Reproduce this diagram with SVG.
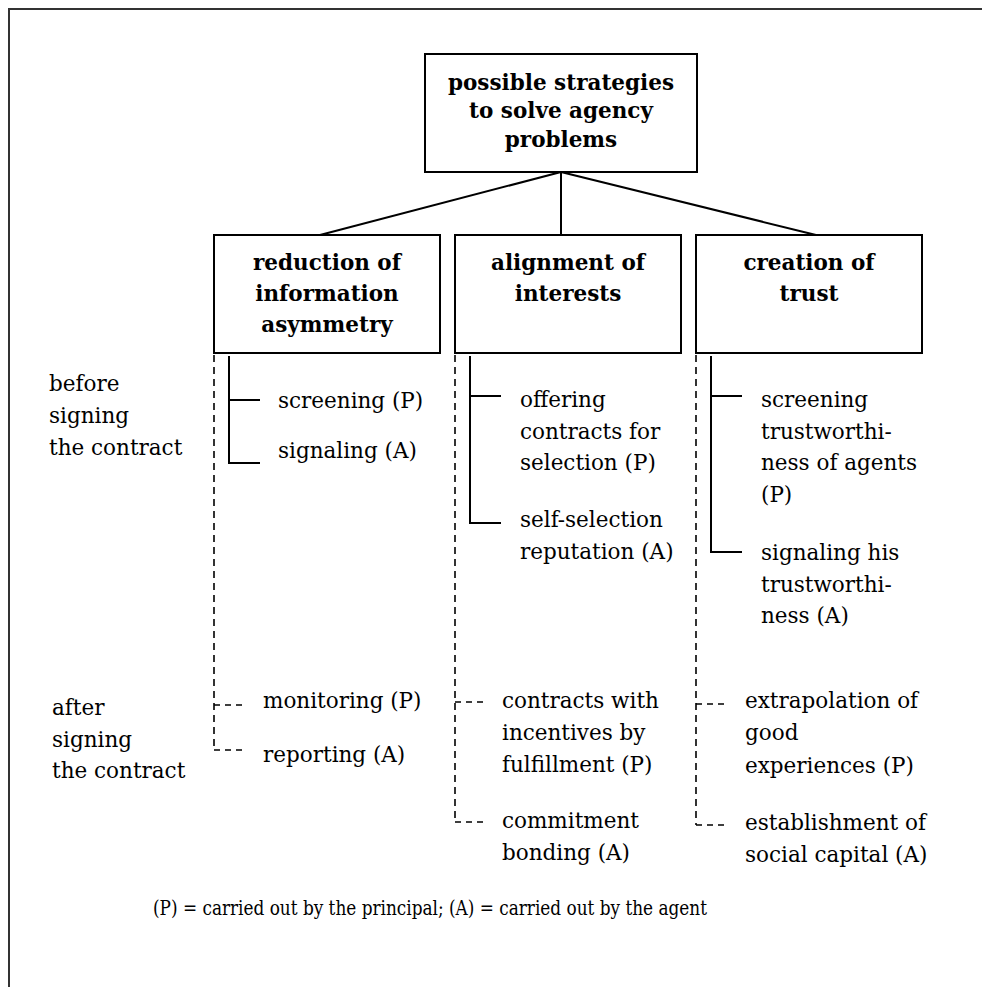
<svg xmlns="http://www.w3.org/2000/svg" width="982" height="987" viewBox="0 0 982 987">
  <style>
    .frame { fill: none; stroke: #333; stroke-width: 2; }
    .box { fill: #fff; stroke: #000; stroke-width: 2; }
    .link { fill: none; stroke: #000; stroke-width: 2; }
    .solid { fill: none; stroke: #000; stroke-width: 2; }
    .dash { fill: none; stroke: #000; stroke-width: 1.6; stroke-dasharray: 7 5; }
    .tick { fill: none; stroke: #000; stroke-width: 1.6; stroke-dasharray: 6 5; }
    .title { font-family: "DejaVu Serif", "Liberation Serif", serif; font-weight: bold; font-size: 21.5px; text-anchor: middle; fill: #000; }
    .lbl { font-family: "DejaVu Serif", "Liberation Serif", serif; font-size: 21.5px; fill: #000; }
    .note { font-family: "DejaVu Serif", "Liberation Serif", serif; font-size: 21px; fill: #000; }
  </style>

  <rect width="982" height="987" fill="#fff"/>
  <!-- outer frame (top and left edges) -->
  <path class="frame" d="M9,987 V9 H982"/>

  <!-- connectors -->
  <g id="connectors">
    <path class="link" d="M561,172 L320,235"/>
    <path class="link" d="M561,172 V235"/>
    <path class="link" d="M561,172 L816,235"/>
    <!-- before signing: solid brackets -->
    <path class="solid" d="M229,356 V463 H260 M229,400 H260"/>
    <path class="solid" d="M470,356 V523 H501 M470,396 H501"/>
    <path class="solid" d="M711,356 V552 H742 M711,396 H742"/>
    <!-- after signing: dashed brackets -->
    <path class="dash" d="M214,355 V750"/>
    <path class="tick" d="M214,705 H245 M214,750 H245"/>
    <path class="dash" d="M455,355 V822"/>
    <path class="tick" d="M455,702 H485 M455,822 H485"/>
    <path class="dash" d="M696,355 V825"/>
    <path class="tick" d="M696,704 H727 M696,825 H727"/>
  </g>

  <g id="root">
    <rect class="box" x="425" y="54" width="272" height="118"/>
    <text class="title" x="561" y="90">possible strategies</text>
    <text class="title" x="561" y="118">to solve agency</text>
    <text class="title" x="561" y="147">problems</text>
  </g>

  <g id="info-asymmetry">
    <rect class="box" x="214" y="235" width="226" height="118"/>
    <text class="title" x="327" y="270">reduction of</text>
    <text class="title" x="327" y="301">information</text>
    <text class="title" x="327" y="332">asymmetry</text>
  </g>

  <g id="alignment">
    <rect class="box" x="455" y="235" width="226" height="118"/>
    <text class="title" x="568" y="270">alignment of</text>
    <text class="title" x="568" y="301">interests</text>
  </g>

  <g id="trust">
    <rect class="box" x="696" y="235" width="226" height="118"/>
    <text class="title" x="809" y="270">creation of</text>
    <text class="title" x="809" y="301">trust</text>
  </g>

  <g id="phase-before">
    <text class="lbl" x="49" y="391">before</text>
    <text class="lbl" x="49" y="423">signing</text>
    <text class="lbl" x="49" y="455">the contract</text>
  </g>

  <g id="phase-after">
    <text class="lbl" x="52" y="715">after</text>
    <text class="lbl" x="52" y="746.5">signing</text>
    <text class="lbl" x="52" y="778">the contract</text>
  </g>

  <g id="screening">
    <text class="lbl" x="278" y="408">screening (P)</text>
  </g>
  <g id="signaling">
    <text class="lbl" x="278" y="458">signaling (A)</text>
  </g>
  <g id="monitoring">
    <text class="lbl" x="263" y="708">monitoring (P)</text>
  </g>
  <g id="reporting">
    <text class="lbl" x="263" y="762">reporting (A)</text>
  </g>

  <g id="offering-contracts">
    <text class="lbl" x="520" y="407">offering</text>
    <text class="lbl" x="520" y="438.5">contracts for</text>
    <text class="lbl" x="520" y="470">selection (P)</text>
  </g>
  <g id="self-selection">
    <text class="lbl" x="520" y="527">self-selection</text>
    <text class="lbl" x="520" y="559">reputation (A)</text>
  </g>
  <g id="incentive-contracts">
    <text class="lbl" x="502" y="708">contracts with</text>
    <text class="lbl" x="502" y="740">incentives by</text>
    <text class="lbl" x="502" y="772">fulfillment (P)</text>
  </g>
  <g id="commitment">
    <text class="lbl" x="502" y="828">commitment</text>
    <text class="lbl" x="502" y="860">bonding (A)</text>
  </g>

  <g id="screening-trust">
    <text class="lbl" x="761" y="407">screening</text>
    <text class="lbl" x="761" y="438.5">trustworthi-</text>
    <text class="lbl" x="761" y="470">ness of agents</text>
    <text class="lbl" x="761" y="501.5">(P)</text>
  </g>
  <g id="signaling-trust">
    <text class="lbl" x="761" y="560">signaling his</text>
    <text class="lbl" x="761" y="592">trustworthi-</text>
    <text class="lbl" x="761" y="623">ness (A)</text>
  </g>
  <g id="extrapolation">
    <text class="lbl" x="745" y="708">extrapolation of</text>
    <text class="lbl" x="745" y="740">good</text>
    <text class="lbl" x="745" y="773">experiences (P)</text>
  </g>
  <g id="social-capital">
    <text class="lbl" x="745" y="830">establishment of</text>
    <text class="lbl" x="745" y="862">social capital (A)</text>
  </g>

  <g id="legend">
    <text class="note" x="153" y="915" textLength="554" lengthAdjust="spacingAndGlyphs">(P) = carried out by the principal; (A) = carried out by the agent</text>
  </g>
</svg>
